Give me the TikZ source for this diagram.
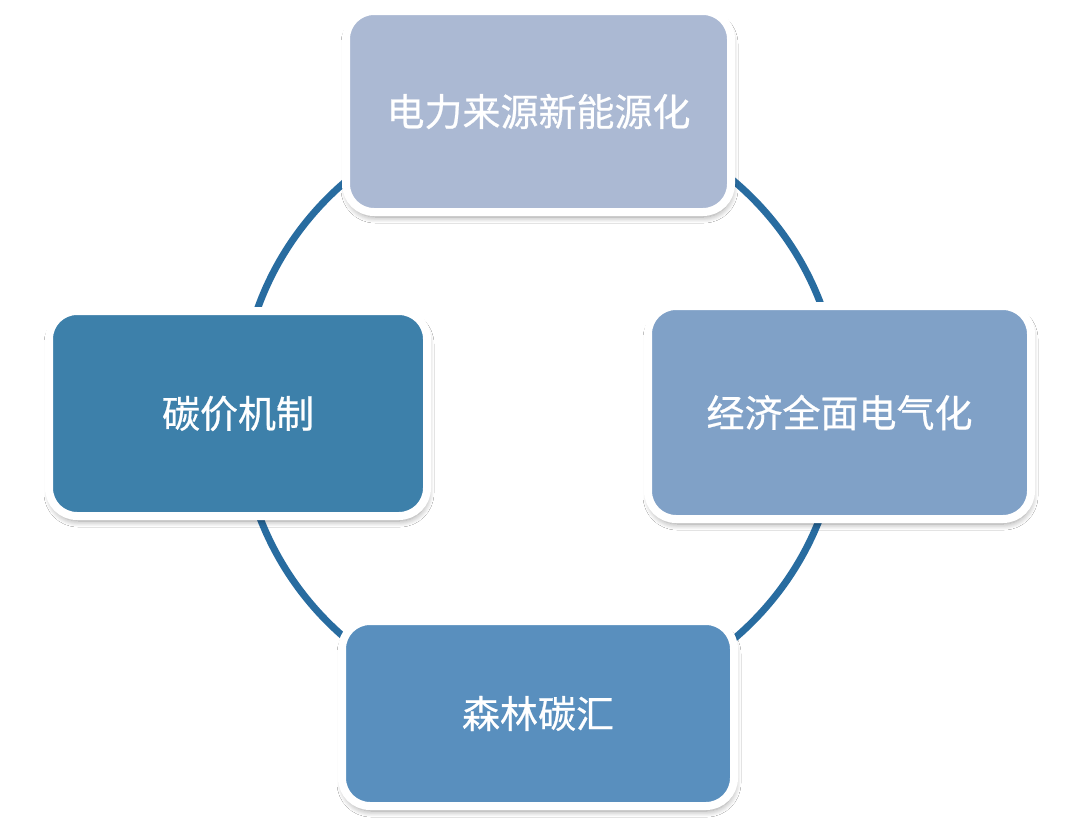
\documentclass[tikz,border=0pt]{standalone}
\usepackage{fontspec}
\newfontfamily\cjk{Noto Sans CJK SC}[FakeBold=0.6]
\usetikzlibrary{shadows.blur}
\definecolor{cTop}{RGB}{171,185,211}
\definecolor{cLeft}{RGB}{61,128,170}
\definecolor{cRight}{RGB}{128,161,199}
\definecolor{cBottom}{RGB}{89,143,190}
\definecolor{ringc}{RGB}{40,108,160}
\begin{document}
\begin{tikzpicture}[x=1pt,y=-1pt,
  box/.style={draw=white, line width=8pt, rounded corners=28pt, inner sep=0pt,
    text=white, font=\cjk\fontsize{38pt}{42pt}\selectfont,
    blur shadow={shadow xshift=1pt, shadow yshift=-5pt, shadow blur steps=8,
      shadow blur radius=6pt, shadow opacity=40}},
  ring/.style={draw=ringc, line width=7pt}]
\useasboundingbox[fill=white] (0,0) rectangle (1080,827);
\coordinate (c) at (540,410);
\draw[ring] (c) circle[radius=300];
\node[box, fill=cTop, minimum width=385pt, minimum height=201pt] (top) at (538.5,111.5) {电力来源新能源化};
\node[box, fill=cLeft, minimum width=378pt, minimum height=205pt] (left) at (238,413.5) {碳价机制};
\node[box, fill=cRight, minimum width=383pt, minimum height=213pt] (right) at (839.5,412.5) {经济全面电气化};
\node[box, fill=cBottom, minimum width=392pt, minimum height=185pt] (bottom) at (538,713.5) {森林碳汇};
\end{tikzpicture}
\end{document}
